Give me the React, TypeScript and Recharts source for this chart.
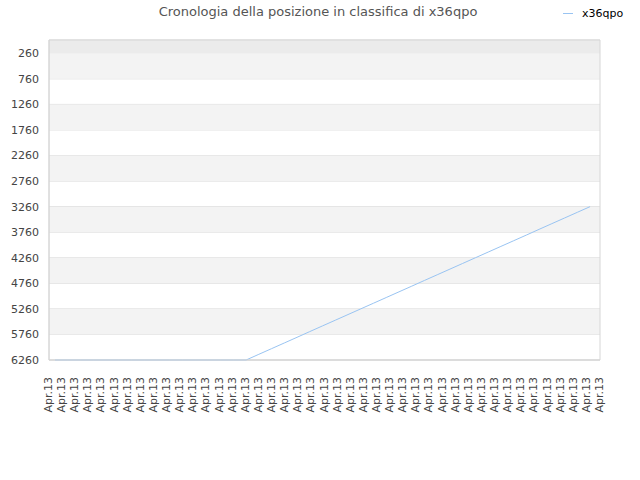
import React from 'react';
import { LineChart, Line, XAxis, YAxis, CartesianGrid, ReferenceArea } from 'recharts';

const TITLE = 'Cronologia della posizione in classifica di x36qpo';
const PLAYER = 'x36qpo';

// one label per day on the axis
const dayLabels = [
  'Apr.13', 'Apr.13', 'Apr.13', 'Apr.13', 'Apr.13', 'Apr.13', 'Apr.13', 'Apr.13', 'Apr.13', 'Apr.13',
  'Apr.13', 'Apr.13', 'Apr.13', 'Apr.13', 'Apr.13', 'Apr.13', 'Apr.13', 'Apr.13', 'Apr.13', 'Apr.13',
  'Apr.13', 'Apr.13', 'Apr.13', 'Apr.13', 'Apr.13', 'Apr.13', 'Apr.13', 'Apr.13', 'Apr.13', 'Apr.13',
  'Apr.13', 'Apr.13', 'Apr.13', 'Apr.13', 'Apr.13', 'Apr.13', 'Apr.13', 'Apr.13', 'Apr.13', 'Apr.13',
  'Apr.13', 'Apr.13', 'Apr.13',
];

// ranking position (lower is better)
const ranks = [
  6260, 6260, 6260, 6260, 6260, 6260, 6260, 6260, 6260, 6260,
  6260, 6260, 6260, 6260, 6260, 6260, 6149, 6038, 5927, 5816,
  5704, 5593, 5482, 5371, 5260, 5149, 5038, 4927, 4816, 4704,
  4593, 4482, 4371, 4260, 4149, 4038, 3927, 3816, 3704, 3593,
  3482, 3371, 3260,
];

const yTicks = [260, 760, 1260, 1760, 2260, 2760, 3260, 3760, 4260, 4760, 5260, 5760, 6260];

const data = dayLabels.map((label, i) => ({ day: i, label, rank: ranks[i] }));

// shaded bands: 260-760, 1260-1760, ...
const bands: number[][] = [];
for (let i = 0; i < yTicks.length - 1; i += 2) bands.push([yTicks[i], yTicks[i + 1]]);

const XTick = (props: any) => {
  const { x, y, payload } = props;
  return (
    <text
      x={x + 3}
      y={y + 9}
      transform={`rotate(-90 ${x + 3} ${y + 9})`}
      textAnchor="end"
      fontSize={11}
      fill="#444"
      fontFamily="DejaVu Sans"
    >
      {payload.value}
    </text>
  );
};

export default function App() {
  return (
    <div style={{ position: 'absolute', left: 0, top: 0, width: 640, height: 480, background: '#fff', fontFamily: 'DejaVu Sans' }}>
      <div style={{ position: 'absolute', top: 4, left: 0, width: 636, textAlign: 'center', fontSize: 13, color: '#555' }}>
        {TITLE}
      </div>
      <div style={{ position: 'absolute', top: 7, left: 563, fontSize: 11, color: '#000', display: 'flex', alignItems: 'center' }}>
        <span style={{ display: 'inline-block', width: 10, height: 1, background: '#99c4f2', marginRight: 9 }} />
        {PLAYER}
      </div>
      <LineChart width={640} height={480} data={data} margin={{ top: 40, right: 40, bottom: 0, left: 0 }}>
        <ReferenceArea y1={0} y2={260} fill="#ebebeb" fillOpacity={1} stroke="none" />
        {bands.map(([a, b]) => (
          <ReferenceArea key={a} y1={a} y2={b} fill="#f3f3f3" fillOpacity={1} stroke="none" />
        ))}
        <CartesianGrid vertical={false} stroke="#dddddd" />
        <ReferenceArea y1={0} y2={6260} fill="none" stroke="#d6d6d6" strokeOpacity={1} />
        <XAxis
          dataKey="label"
          interval={0}
          height={120}
          tick={<XTick />}
          tickLine={false}
          axisLine={{ stroke: '#d6d6d6' }}
        />
        {/* the series is drawn slightly inset from the label ticks */}
        <XAxis
          xAxisId="line"
          dataKey="day"
          type="number"
          domain={[-0.47, 42.78]}
          allowDataOverflow
          hide
        />
        <YAxis
          reversed
          domain={[0, 6260]}
          ticks={yTicks}
          interval={0}
          width={49}
          tickLine={false}
          axisLine={{ stroke: '#d6d6d6' }}
          tick={{ fontSize: 11, fill: '#444', fontFamily: 'DejaVu Sans' }}
          tickMargin={4}
        />
        <Line
          xAxisId="line"
          dataKey="rank"
          stroke="#99c4f2"
          strokeWidth={1}
          dot={false}
          isAnimationActive={false}
        />
      </LineChart>
    </div>
  );
}
